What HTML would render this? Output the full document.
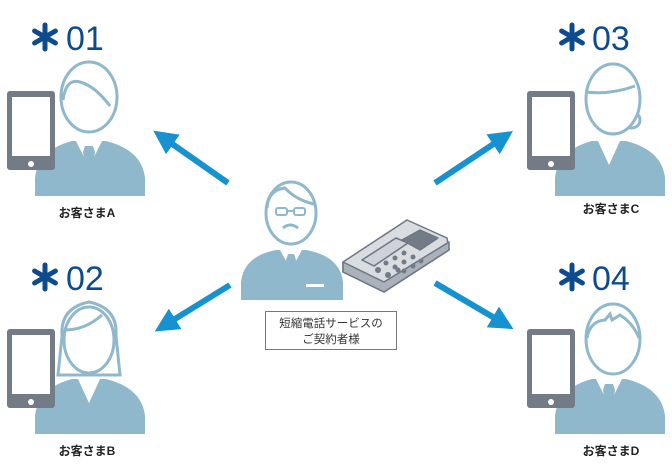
<!DOCTYPE html>
<html><head><meta charset="utf-8"><style>
html,body{margin:0;padding:0;background:#fff;}
svg{display:block;}
text{font-family:"Liberation Sans","Noto Sans CJK JP",sans-serif;}
</style></head><body>
<svg width="672" height="473" viewBox="0 0 672 473" xmlns="http://www.w3.org/2000/svg">
<defs>
<g id="phone">
<rect x="7" y="91" width="48" height="79" rx="3" fill="#737b87"/>
<rect x="12" y="97" width="38" height="59" fill="#fff"/>
<circle cx="31" cy="164" r="3" fill="#fff"/>
</g>
<g id="ast" stroke="#0d4a8e" stroke-width="5" stroke-linecap="round">
<line x1="0" y1="-12" x2="0" y2="12"/>
<line x1="-10.4" y1="-6" x2="10.4" y2="6"/>
<line x1="-10.4" y1="6" x2="10.4" y2="-6"/>
</g>
<g id="bodyM">
<path d="M35,196 L35,178 Q38,150 72,141 L106,141 Q142,150 145,178 L145,196 Z" fill="#8fb8cc"/>
<path d="M76,141 L89,167 L102,141 Z" fill="#fff"/>
<path d="M85,146 L93,146 L95,152 L92,172 L89,176 L86,172 L83,152 Z" fill="#8fb8cc"/>
</g>
<g id="bodyF">
<path d="M35,196 L35,178 Q38,150 72,141 L106,141 Q142,150 145,178 L145,196 Z" fill="#8fb8cc"/>
<path d="M78,141 L89,165 L100,141 Z" fill="#fff"/>
</g>
<marker id="ah" markerWidth="4" markerHeight="4" refX="1" refY="2" orient="auto" markerUnits="strokeWidth">
<path d="M0,0 L4,2 L0,4 Z" fill="#1592cf"/>
</marker>
</defs>

<use href="#ast" x="45" y="37"/>
<use href="#ast" x="45" y="277"/>
<use href="#ast" x="572" y="37"/>
<use href="#ast" x="572" y="277"/>
<g fill="#0d4a8e" font-size="34">
<text x="66" y="50">01</text>
<text x="66" y="290">02</text>
<text x="592" y="50">03</text>
<text x="592" y="290">04</text>
</g>

<!-- A -->
<g>
<use href="#bodyM"/>
<ellipse cx="89" cy="97" rx="28" ry="35" fill="#fff" stroke="#8fb8cc" stroke-width="3"/>
<path d="M63,100 Q66,78 80,82 Q95,86 110,106" fill="none" stroke="#8fb8cc" stroke-width="3"/>
<use href="#phone"/>
<text x="87" y="217" font-size="12" font-weight="bold" text-anchor="middle" fill="#222">お客さまA</text>
</g>
<!-- B -->
<g transform="translate(0,238)">
<use href="#bodyF"/>
<path d="M62,98 Q60,70 89,64 Q118,70 116,98 L120,137 L58,137 Z" fill="#fff" stroke="#8fb8cc" stroke-width="3"/>
<ellipse cx="89" cy="102" rx="25" ry="33" fill="#fff" stroke="#8fb8cc" stroke-width="3"/>
<path d="M65,92 Q85,92 102,77" fill="none" stroke="#8fb8cc" stroke-width="3"/>
<use href="#phone"/>
<text x="87" y="217" font-size="12" font-weight="bold" text-anchor="middle" fill="#222">お客さまB</text>
</g>
<!-- C -->
<g transform="translate(520,0)">
<use href="#bodyF"/>
<circle cx="112" cy="120" r="8" fill="#fff" stroke="#8fb8cc" stroke-width="3"/>
<ellipse cx="93" cy="99" rx="27" ry="35" fill="#fff" stroke="#8fb8cc" stroke-width="3"/>
<path d="M66,92 Q90,95 115,86" fill="none" stroke="#8fb8cc" stroke-width="3"/>
<use href="#phone"/>
<text x="91" y="213" font-size="12" font-weight="bold" text-anchor="middle" fill="#222">お客さまC</text>
</g>
<!-- D -->
<g transform="translate(520,238)">
<use href="#bodyM"/>
<ellipse cx="93" cy="101" rx="27" ry="35" fill="#fff" stroke="#8fb8cc" stroke-width="3"/>
<path d="M67,100 Q70,83 85,82 L90,76 L92,82 L100,77 Q113,85 119,100" fill="none" stroke="#8fb8cc" stroke-width="3"/>
<use href="#phone"/>
<text x="91" y="217" font-size="12" font-weight="bold" text-anchor="middle" fill="#222">お客さまD</text>
</g>

<!-- arrows -->
<g stroke="#1592cf" stroke-width="6" fill="none">
<line x1="228" y1="183" x2="168" y2="141" marker-end="url(#ah)"/>
<line x1="230" y1="285" x2="170" y2="322" marker-end="url(#ah)"/>
<line x1="435" y1="183" x2="498" y2="141" marker-end="url(#ah)"/>
<line x1="435" y1="283" x2="498" y2="320" marker-end="url(#ah)"/>
</g>

<!-- center person -->
<g>
<path d="M241,300 L241,282 Q244,256 276,250 L306,250 Q340,256 343,282 L343,300 Z" fill="#8fb8cc"/>
<path d="M280,250 L291,270 L302,250 Z" fill="#fff"/>
<path d="M288,254 L294,254 L296,260 L293,276 L291,279 L289,276 L286,260 Z" fill="#8fb8cc"/>
<rect x="306" y="284" width="18" height="3" fill="#fff"/>
<ellipse cx="291" cy="213" rx="25" ry="31" fill="#fff" stroke="#8fb8cc" stroke-width="3"/>
<path d="M267,208 Q268,190 285,188 Q296,200 314,204" fill="none" stroke="#8fb8cc" stroke-width="3"/>
<rect x="276" y="208" width="11" height="7" rx="2" fill="none" stroke="#8fb8cc" stroke-width="2"/>
<rect x="294" y="208" width="11" height="7" rx="2" fill="none" stroke="#8fb8cc" stroke-width="2"/>
<line x1="287" y1="211" x2="294" y2="211" stroke="#8fb8cc" stroke-width="2"/>
<path d="M283,228 Q290,222 298,228" fill="none" stroke="#8fb8cc" stroke-width="3"/>
</g>
<!-- desk phone -->
<g stroke="#6e7682" stroke-width="1.5" stroke-linejoin="round">
<path d="M343,262 L407,220 L447,238 L449,250 L384,292 L343,272 Z" fill="#d9dde2"/>
<path d="M343,262 L384,282 L449,242 L449,250 L384,292 L343,272 Z" fill="#aab1ba"/>
<path d="M362,260 L396,238 L408,243 L374,266 Z" fill="#cfd3d8"/>
<path d="M402,240 L420,230 L438,238 L420,250 Z" fill="#737b87"/>
</g>
<g fill="#737b87">
<circle cx="378" cy="270" r="3"/><circle cx="388" cy="275" r="3"/><circle cx="398" cy="270" r="2.5"/>
<circle cx="386" cy="263" r="2.5"/><circle cx="395" cy="258" r="2.5"/><circle cx="404" cy="253" r="2.5"/>
<circle cx="395" cy="267" r="2.5"/><circle cx="404" cy="262" r="2.5"/><circle cx="413" cy="257" r="2.5"/>
<circle cx="404" cy="271" r="2.5"/><circle cx="413" cy="266" r="2.5"/><circle cx="421" cy="261" r="2.5"/>
</g>

<rect x="265.5" y="311.5" width="131" height="38" fill="#fff" stroke="#777" stroke-width="1"/>
<text x="331" y="327" font-size="11.5" text-anchor="middle" fill="#333">短縮電話サービスの</text>
<text x="331" y="343" font-size="11.5" text-anchor="middle" fill="#333">ご契約者様</text>
</svg>
</body></html>
